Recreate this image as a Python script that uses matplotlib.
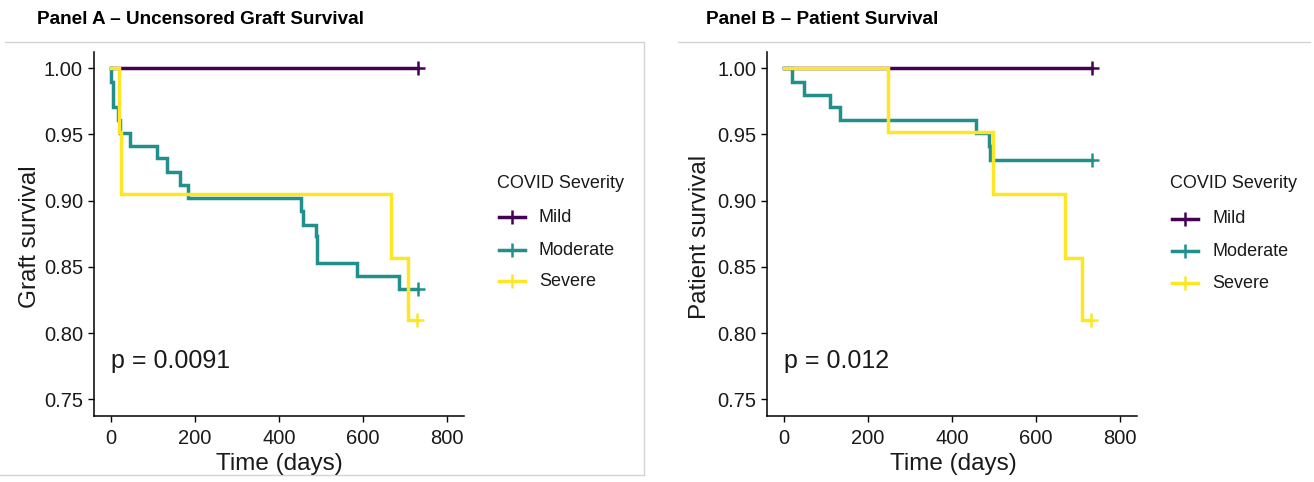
import matplotlib
matplotlib.use("Agg")
import matplotlib.pyplot as plt
from matplotlib.lines import Line2D

plt.rcParams['font.family'] = ['Liberation Sans', 'DejaVu Sans']

# ---------------- data ----------------
groups = ["Mild", "Moderate", "Severe"]
colors = ["#440154", "#21908C", "#FDE725"]

# Panel A - uncensored graft survival
A_mild_t = [0, 731]
A_mild_s = [1.0, 1.0]
A_mod_t = [0, 1, 4, 17, 22, 45, 111, 134, 165, 184, 453, 458, 487, 490, 585, 686, 731]
A_mod_s = [1.0, 0.990, 0.971, 0.961, 0.951, 0.941, 0.932, 0.922, 0.912, 0.902,
           0.892, 0.882, 0.873, 0.853, 0.843, 0.833, 0.833]
A_sev_t = [0, 20, 24, 667, 707, 729]
A_sev_s = [1.0, 0.952, 0.905, 0.857, 0.810, 0.810]

# Panel B - patient survival
B_mild_t = [0, 733]
B_mild_s = [1.0, 1.0]
B_mod_t = [0, 18, 47, 109, 133, 456, 487, 491, 733]
B_mod_s = [1.0, 0.990, 0.980, 0.971, 0.961, 0.951, 0.941, 0.931, 0.931]
B_sev_t = [0, 248, 498, 669, 709, 731]
B_sev_s = [1.0, 0.952, 0.905, 0.857, 0.810, 0.810]

x_ticks = [0, 200, 400, 600, 800]
y_ticks = [0.75, 0.80, 0.85, 0.90, 0.95, 1.00]

panels = [
    dict(title="Panel A \u2013 Uncensored Graft Survival", ylabel="Graft survival",
         pval="p = 0.0091",
         curves=[(A_mild_t, A_mild_s), (A_mod_t, A_mod_s), (A_sev_t, A_sev_s)]),
    dict(title="Panel B \u2013 Patient Survival", ylabel="Patient survival",
         pval="p = 0.012",
         curves=[(B_mild_t, B_mild_s), (B_mod_t, B_mod_s), (B_sev_t, B_sev_s)]),
]

# ---------------- layout (pixels) ----------------
W, H = 1314, 482
fig = plt.figure(figsize=(W / 100, H / 100), dpi=100)


def fx(px):
    return px / W


def fy(py):
    return 1 - py / H


layout = [
    dict(left=94, right=464, title_x=37, ylab_x=30, xlab_x=279,
         leg_line=(499, 525), leg_text=539, leg_title_y=183, leg_y=[217, 250, 281], leg_title_x=497,
         pval_x=111),
    dict(left=767.3, right=1136.7, title_x=706, ylab_x=700, xlab_x=953,
         leg_line=(1172, 1198), leg_text=1212, leg_title_y=184, leg_y=[219, 251, 283], leg_title_x=1170,
         pval_x=784),
]
top, bottom = 51.7, 416

text_col = "#1a1a1a"

for p, L in zip(panels, layout):
    ax = fig.add_axes([fx(L["left"]), fy(bottom), (L["right"] - L["left"]) / W, (bottom - top) / H])
    for (t, s), c in zip(p["curves"], colors):
        ax.step(t, s, where="post", color=c, lw=2.5, solid_joinstyle="miter")
        ax.plot([t[-1]], [s[-1]], marker="+", ms=10, mew=1.8, color=c, linestyle="none")
    ax.set_xlim(-40, 840)
    ax.set_ylim(0.7375, 1.0125)
    ax.set_xticks(x_ticks)
    ax.set_yticks(y_ticks)
    ax.set_yticklabels([f"{v:.2f}" for v in y_ticks])
    for sp in ["top", "right"]:
        ax.spines[sp].set_visible(False)
    for sp in ["left", "bottom"]:
        ax.spines[sp].set_linewidth(1.1)
        ax.spines[sp].set_color("black")
    ax.tick_params(axis="both", length=4.5, width=1.0, color="black",
                   labelsize=14.5, labelcolor=text_col)
    ax.tick_params(axis="y", pad=3.5)
    ax.tick_params(axis="x", pad=5)
    ax.set_facecolor("white")

    # title
    fig.text(fx(L["title_x"]), fy(20), p["title"], fontsize=13.6, fontweight="bold",
             ha="left", va="center", color="black")
    # axis labels
    fig.text(fx(L["ylab_x"]), fy(237), p["ylabel"], fontsize=17.5, rotation=90,
             ha="center", va="center", color=text_col)
    fig.text(fx(L["xlab_x"]), fy(464), "Time (days)", fontsize=17.5,
             ha="center", va="center", color=text_col)
    # p value
    fig.text(fx(L["pval_x"]), fy(361), p["pval"], fontsize=18, ha="left", va="center",
             color=text_col)
    # legend
    fig.text(fx(L["leg_title_x"]), fy(L["leg_title_y"]), "COVID Severity", fontsize=13,
             ha="left", va="center", color=text_col)
    x0, x1 = L["leg_line"]
    for g, c, yy in zip(groups, colors, L["leg_y"]):
        fig.add_artist(Line2D([fx(x0), fx(x1)], [fy(yy), fy(yy)], color=c, lw=2.5))
        fig.add_artist(Line2D([fx((x0 + x1) / 2)], [fy(yy)], color=c, marker="+",
                              ms=10, mew=1.8, linestyle="none"))
        fig.text(fx(L["leg_text"]), fy(yy), g, fontsize=13, ha="left", va="center",
                 color=text_col)

# light gray frame lines
gray = "#d4d4d4"
fig.add_artist(Line2D([fx(5), fx(643)], [fy(42), fy(42)], color=gray, lw=1))
fig.add_artist(Line2D([fx(678), fx(1310)], [fy(42), fy(42)], color=gray, lw=1))
fig.add_artist(Line2D([fx(644), fx(644)], [fy(42), fy(475)], color=gray, lw=1))
fig.add_artist(Line2D([fx(0), fx(644)], [fy(475), fy(475)], color=gray, lw=1))

fig.savefig("out.png", dpi=100, facecolor="white")
